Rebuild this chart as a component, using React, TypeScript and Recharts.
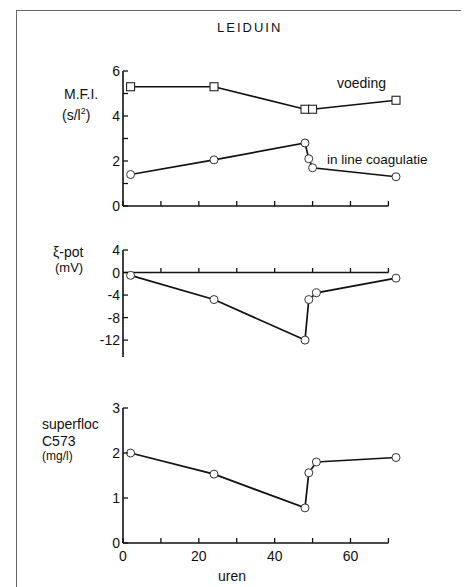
import * as React from "react"
import {
  LineChart,
  Line,
  XAxis,
  YAxis,
  ReferenceLine,
} from "recharts"

// ── Data ──────────────────────────────────────────────────────────────
const voedingUren = [2, 24, 48, 50, 72]
const voedingMfi = [5.3, 5.3, 4.3, 4.3, 4.7]

const coagUren = [2, 24, 48, 49, 50, 72]
const coagMfi = [1.4, 2.05, 2.8, 2.1, 1.7, 1.3]

const zetaUren = [2, 24, 48, 49, 51, 72]
const zetaPot = [-0.5, -4.8, -12, -4.8, -3.6, -1]

const flocUren = [2, 24, 48, 49, 51, 72]
const flocDose = [2.0, 1.53, 0.78, 1.56, 1.8, 1.9]

const xTicks = [0, 10, 20, 30, 40, 50, 60, 70]
const xLabels = [0, 20, 40, 60]

const mfiTicks = [0, 1, 2, 3, 4, 5, 6]
const mfiLabels = [0, 2, 4, 6]
const zetaTicks = [4, 0, -4, -8, -12]
const flocTicks = [0, 1, 2, 3]

// ── Style ─────────────────────────────────────────────────────────────
const FONT = "'Liberation Sans', Arial, sans-serif"
const INK = "#111"
const W = 466
const Y_W = 123
const M_RIGHT = 70

const toRows = (xs: number[], ys: number[]) => xs.map((u, i) => ({ uren: u, v: ys[i] }))

// ticks pointing inwards, labels outside
function XTick(props: any) {
  const { x, y, payload, showLabel } = props
  const lab = showLabel && xLabels.includes(payload.value)
  return (
    <g>
      <line x1={x} x2={x} y1={y} y2={y - 5} stroke={INK} strokeWidth={1.3} />
      {lab && (
        <text x={x} y={y + 18} textAnchor="middle" fontSize={14} fill={INK} fontFamily={FONT}>
          {payload.value}
        </text>
      )}
    </g>
  )
}

function YTick(props: any) {
  const { x, y, payload, labels } = props
  const lab = labels.includes(payload.value)
  return (
    <g>
      <line x1={x} x2={x + 5} y1={y} y2={y} stroke={INK} strokeWidth={1.3} />
      {lab && (
        <text x={x - 3} y={y} dy="0.36em" textAnchor="end" fontSize={14} fill={INK} fontFamily={FONT}>
          {payload.value}
        </text>
      )}
    </g>
  )
}

const circleDot = { r: 4, fill: "#fff", stroke: "#333", strokeWidth: 1 }

function SquareDot(props: any) {
  const { cx, cy, index } = props
  return (
    <rect key={"sq" + index} x={cx - 4} y={cy - 4} width={8} height={8} fill="#fff" stroke="#222" strokeWidth={1.1} />
  )
}

const lineProps = {
  type: "linear" as const,
  dataKey: "v",
  stroke: INK,
  strokeWidth: 1.7,
  isAnimationActive: false,
}

function Label({ x, y, children, size = 13 }: any) {
  return (
    <div style={{ position: "absolute", left: x, top: y, fontSize: size, lineHeight: 1, whiteSpace: "nowrap", color: INK }}>
      {children}
    </div>
  )
}

// ── Component ─────────────────────────────────────────────────────────
export default function App() {
  const axisX = (showLabel: boolean, height: number) => (
    <XAxis
      dataKey="uren"
      type="number"
      domain={[0, 72]}
      ticks={xTicks}
      axisLine={false}
      tickLine={false}
      tickSize={0}
      tickMargin={0}
      height={height}
      interval={0}
      tick={<XTick showLabel={showLabel} />}
    />
  )
  const baseLine = (
    <ReferenceLine segment={[{ x: 0, y: 0 }, { x: 70, y: 0 }]} stroke={INK} strokeWidth={1.6} />
  )

  return (
    <div style={{ position: "absolute", left: 0, top: 0, width: W, height: 587, background: "#fff", fontFamily: FONT }}>
      {/* frame */}
      <div style={{ position: "absolute", left: 16, top: 10, width: 444, height: 577, borderTop: "1px solid #666", borderLeft: "1px solid #666" }} />

      <div style={{ position: "absolute", left: 217, top: 20, fontSize: 13, letterSpacing: 2, color: INK }}>LEIDUIN</div>

      {/* MFI */}
      <div style={{ position: "absolute", left: 0, top: 0 }}>
        <LineChart width={W} height={230} margin={{ top: 71, right: M_RIGHT, bottom: 20, left: 0 }}>
          {axisX(false, 4)}
          <YAxis
            type="number"
            domain={[0, 6]}
            ticks={mfiTicks}
            width={Y_W}
            tickLine={false}
            tickSize={0}
            tickMargin={0}
            interval={0}
            axisLine={{ stroke: INK, strokeWidth: 1.6 }}
            tick={<YTick labels={mfiLabels} />}
          />
          {baseLine}
          <Line {...lineProps} data={toRows(voedingUren, voedingMfi)} dot={<SquareDot />} />
          <Line {...lineProps} data={toRows(coagUren, coagMfi)} dot={circleDot} />
        </LineChart>
      </div>
      <Label x={64} y={87} size={14}>M.F.I.</Label>
      <Label x={62} y={107} size={14}>(s/l<sup style={{ fontSize: 9 }}>2</sup>)</Label>
      <Label x={337} y={76} size={14}>voeding</Label>
      <Label x={327} y={153} size={13.5}>in line coagulatie</Label>

      {/* zeta potential */}
      <div style={{ position: "absolute", left: 0, top: 230 }}>
        <LineChart width={W} height={140} margin={{ top: 20, right: M_RIGHT, bottom: 13, left: 0 }}>
          <XAxis dataKey="uren" type="number" domain={[0, 72]} hide />
          <YAxis
            type="number"
            domain={[-15, 4]}
            ticks={zetaTicks}
            width={Y_W}
            tickLine={false}
            tickSize={0}
            tickMargin={0}
            interval={0}
            axisLine={{ stroke: INK, strokeWidth: 1.6 }}
            tick={<YTick labels={zetaTicks} />}
          />
          {baseLine}
          {xTicks.slice(1).map((t) => (
            <ReferenceLine key={t} segment={[{ x: t, y: 0 }, { x: t, y: 0.8 }]} stroke={INK} strokeWidth={1.3} />
          ))}
          <Line {...lineProps} data={toRows(zetaUren, zetaPot)} dot={circleDot} />
        </LineChart>
      </div>
      <Label x={53} y={245} size={14}>ξ-pot</Label>
      <Label x={55} y={261} size={13}>(mV)</Label>

      {/* superfloc */}
      <div style={{ position: "absolute", left: 0, top: 380 }}>
        <LineChart width={W} height={207} margin={{ top: 28, right: M_RIGHT, bottom: 14, left: 0 }}>
          {axisX(true, 30)}
          <YAxis
            type="number"
            domain={[0, 3]}
            ticks={flocTicks}
            width={Y_W}
            tickLine={false}
            tickSize={0}
            tickMargin={0}
            interval={0}
            axisLine={{ stroke: INK, strokeWidth: 1.6 }}
            tick={<YTick labels={flocTicks} />}
          />
          {baseLine}
          <Line {...lineProps} data={toRows(flocUren, flocDose)} dot={circleDot} />
        </LineChart>
      </div>
      <Label x={42} y={417} size={14}>superfloc</Label>
      <Label x={42} y={434} size={14}>C573</Label>
      <Label x={42} y={450} size={12}>(mg/l)</Label>
      <Label x={218} y={569} size={14}>uren</Label>
    </div>
  )
}
